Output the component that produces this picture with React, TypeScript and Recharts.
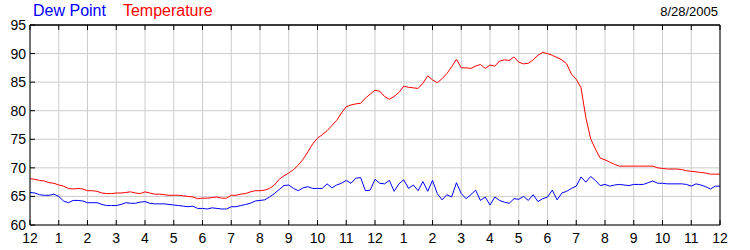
import React from "react";
import { LineChart, Line, XAxis, YAxis, CartesianGrid, ReferenceLine } from "recharts";

// hourly ticks over the day, midnight to midnight
const hourTicks = [0, 1, 2, 3, 4, 5, 6, 7, 8, 9, 10, 11, 12, 13, 14, 15, 16, 17, 18, 19, 20, 21, 22, 23, 24];
const hourLabels = ["12", "1", "2", "3", "4", "5", "6", "7", "8", "9", "10", "11", "12", "1", "2", "3", "4", "5", "6", "7", "8", "9", "10", "11", "12"];
const degreeTicks = [60, 65, 70, 75, 80, 85, 90, 95];

// readings every 10 minutes (one row = one hour)
const temperature = [
  68.1, 68.0, 67.8, 67.7, 67.4, 67.3,
  67.0, 66.8, 66.4, 66.3, 66.4, 66.3,
  66.0, 66.0, 65.9, 65.6, 65.5, 65.5,
  65.6, 65.6, 65.7, 65.8, 65.6, 65.5,
  65.8, 65.6, 65.4, 65.4, 65.3, 65.2,
  65.2, 65.2, 65.1, 65.0, 64.9, 64.6,
  64.7, 64.7, 64.8, 64.9, 64.7, 64.7,
  65.2, 65.2, 65.4, 65.5, 65.8, 66.0,
  66.0, 66.1, 66.4, 67.0, 68.0, 68.6,
  69.1, 69.7, 70.5, 71.5, 72.8, 74.2,
  75.2, 75.8, 76.5, 77.4, 78.3, 79.6,
  80.7, 81.0, 81.2, 81.3, 82.2, 82.9,
  83.6, 83.4, 82.5, 82.0, 82.5, 83.2,
  84.3, 84.1, 84.0, 83.9, 84.8, 86.1,
  85.4, 84.9, 85.6, 86.5, 87.7, 89.0,
  87.5, 87.5, 87.4, 87.8, 88.1, 87.4,
  88.0, 87.8, 88.7, 88.9, 88.8, 89.4,
  88.5, 88.2, 88.3, 88.9, 89.7, 90.2,
  90.0, 89.7, 89.3, 88.9, 88.2, 86.4,
  85.5, 84.0, 78.8, 75.1, 73.3, 71.7,
  71.4, 71.0, 70.6, 70.3, 70.3, 70.3,
  70.3, 70.3, 70.3, 70.3, 70.3, 70.0,
  69.9, 69.8, 69.8, 69.8, 69.7, 69.5,
  69.4, 69.3, 69.2, 69.1, 68.9, 68.9,
  68.9,
];

const dewPoint = [
  65.7, 65.6, 65.3, 65.2, 65.2, 65.4,
  65.0, 64.2, 63.9, 64.3, 64.3, 64.2,
  63.9, 63.9, 63.9, 63.6, 63.4, 63.4,
  63.4, 63.6, 63.9, 63.8, 63.8, 64.0,
  64.1, 63.8, 63.7, 63.7, 63.7, 63.6,
  63.5, 63.4, 63.3, 63.2, 63.3, 62.9,
  62.9, 62.8, 63.0, 62.9, 62.8, 62.8,
  63.2, 63.2, 63.4, 63.6, 63.8, 64.2,
  64.3, 64.4, 64.9, 65.5, 66.2, 66.9,
  67.0, 66.4, 66.0, 66.5, 66.7, 66.4,
  66.4, 66.4, 67.2, 66.5, 67.0, 67.3,
  67.8, 67.3, 68.2, 68.3, 66.0, 66.1,
  68.0, 67.3, 67.2, 67.8, 65.9, 67.2,
  67.9, 66.4, 67.0, 66.0, 67.6, 65.9,
  67.8, 65.5, 64.4, 65.3, 64.9, 67.4,
  65.5, 64.6, 65.3, 66.1, 64.3, 64.9,
  63.5, 64.9, 64.3, 64.0, 63.8, 64.6,
  64.5, 65.0, 64.3, 65.3, 64.1, 64.6,
  64.9, 66.1, 64.4, 65.6, 65.9, 66.4,
  66.8, 68.4, 67.5, 68.5, 67.8, 66.9,
  67.1, 66.8, 67.0, 67.1, 67.0, 66.9,
  67.1, 67.1, 67.1, 67.4, 67.7, 67.3,
  67.3, 67.2, 67.2, 67.2, 67.2, 67.1,
  66.8, 67.2, 67.0, 66.7, 66.3, 66.8,
  66.8,
];

const chartData = temperature.map((temp, i) => ({
  hour: i / 6,
  temp,
  dew: dewPoint[i],
}));

const font = "'Liberation Sans', Arial, sans-serif";
const tickStyle = { fill: "#000", fontSize: 14, fontFamily: font };

export default function App() {
  return (
    <div style={{ position: "relative", width: 750, height: 250, background: "#fff" }}>
      <style>{`body{margin:0;}`}</style>
      <div style={{ position: "absolute", left: 33, top: 2, fontFamily: font, fontSize: 16, whiteSpace: "nowrap" }}>
        <span style={{ color: "#0000ff" }}>Dew Point</span>
        <span style={{ color: "#ff0000", marginLeft: 17 }}>Temperature</span>
      </div>
      <div style={{ position: "absolute", right: 32, top: 4, fontFamily: font, fontSize: 13, color: "#000" }}>
        8/28/2005
      </div>
      <LineChart width={750} height={250} data={chartData} margin={{ top: 24, right: 0, bottom: 0, left: 0 }}>
        <CartesianGrid stroke="#cccccc" strokeWidth={1} xAxisId="bottom" yAxisId="left" />
        <XAxis
          xAxisId="bottom"
          dataKey="hour"
          type="number"
          domain={[0, 24]}
          ticks={hourTicks}
          interval={0}
          height={25}
          stroke="#000"
          tickLine={{ stroke: "#000" }}
          tickSize={-5}
          tickMargin={13}
          tick={tickStyle}
          tickFormatter={(v: number) => hourLabels[v]}
        />
        {/* top frame edge: ticks only, labels hidden */}
        <XAxis
          xAxisId="top"
          orientation="top"
          dataKey="hour"
          type="number"
          domain={[0, 24]}
          ticks={hourTicks}
          interval={0}
          height={1}
          stroke="#000"
          tickLine={{ stroke: "#000" }}
          tickSize={-5}
          tick={{ fill: "none", fontSize: 1 }}
          tickFormatter={() => ""}
        />
        <YAxis
          yAxisId="left"
          domain={[60, 95]}
          ticks={degreeTicks}
          interval={0}
          width={30}
          stroke="#000"
          tickLine={{ stroke: "#000" }}
          tickSize={-5}
          tickMargin={9}
          tick={tickStyle}
        />
        <YAxis
          yAxisId="right"
          orientation="right"
          domain={[60, 95]}
          ticks={degreeTicks}
          interval={0}
          width={30}
          stroke="#000"
          tickLine={{ stroke: "#000" }}
          tickSize={-5}
          tickMargin={12}
          tick={tickStyle}
        />
        <ReferenceLine xAxisId="bottom" yAxisId="left" y={95} stroke="#000" strokeWidth={1} />
        <Line
          xAxisId="bottom"
          yAxisId="left"
          type="linear"
          dataKey="dew"
          stroke="#0000ff"
          strokeWidth={1}
          dot={false}
          isAnimationActive={false}
        />
        <Line
          xAxisId="bottom"
          yAxisId="left"
          type="linear"
          dataKey="temp"
          stroke="#ff0000"
          strokeWidth={1}
          dot={false}
          isAnimationActive={false}
        />
      </LineChart>
    </div>
  );
}
